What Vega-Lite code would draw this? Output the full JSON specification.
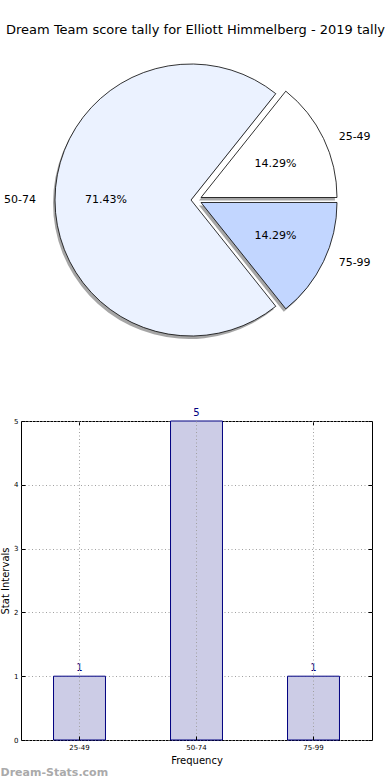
{
  "$schema": "https://vega.github.io/schema/vega-lite/v6.json",
  "padding": {"top": 24, "left": 0, "right": 0, "bottom": 0},
  "background": "white",
  "config": {"font": "DejaVu Sans", "view": {"stroke": null}},
  "title": {"text": "Dream Team score tally for Elliott Himmelberg - 2019 tally", "fontSize": 13, "fontWeight": "normal", "color": "black", "anchor": "middle", "offset": 13, "dx": 9},
  "datasets": {
    "tally": [
      {"range": "25-49", "count": 1, "pct": "14.29%"},
      {"range": "50-74", "count": 5, "pct": "71.43%"},
      {"range": "75-99", "count": 1, "pct": "14.29%"}
    ]
  },
  "spacing": 57,
  "vconcat": [
    {
      "width": 340,
      "height": 300,
      "data": {"name": "tally"},
      "encoding": {
        "theta": {"field": "count", "type": "quantitative", "stack": true, "scale": {"range": [1.5708, -4.7124]}},
        "order": {"field": "range"}
      },
      "layer": [
        {"mark": {"type": "arc", "radius": 136, "xOffset": -2, "yOffset": 3, "fill": "#4d4d4d", "fillOpacity": 0.5},
         "encoding": {"opacity": {"condition": {"test": "datum.range === '50-74'", "value": 1}, "value": 0}}},
        {"mark": {"type": "arc", "radius": 136, "xOffset": 8, "yOffset": 0.5, "fill": "#4d4d4d", "fillOpacity": 0.5},
         "encoding": {"opacity": {"condition": {"test": "datum.range === '25-49'", "value": 1}, "value": 0}}},
        {"mark": {"type": "arc", "radius": 136, "xOffset": 8, "yOffset": 5.5, "fill": "#4d4d4d", "fillOpacity": 0.5},
         "encoding": {"opacity": {"condition": {"test": "datum.range === '75-99'", "value": 1}, "value": 0}}},
        {"mark": {"type": "arc", "radius": 136, "fill": "#ebf2ff", "stroke": "black", "strokeWidth": 0.8},
         "encoding": {"opacity": {"condition": {"test": "datum.range === '50-74'", "value": 1}, "value": 0}}},
        {"mark": {"type": "arc", "radius": 136, "xOffset": 10, "yOffset": -2.5, "fill": "#ffffff", "stroke": "black", "strokeWidth": 0.8},
         "encoding": {"opacity": {"condition": {"test": "datum.range === '25-49'", "value": 1}, "value": 0}}},
        {"mark": {"type": "arc", "radius": 136, "xOffset": 10, "yOffset": 2.5, "fill": "#c2d6ff", "stroke": "black", "strokeWidth": 0.8},
         "encoding": {"opacity": {"condition": {"test": "datum.range === '75-99'", "value": 1}, "value": 0}}},
        {"mark": {"type": "text", "radius": 85, "fontSize": 11, "color": "black", "align": "center", "baseline": "middle"},
         "encoding": {"text": {"field": "pct"}, "opacity": {"condition": {"test": "datum.range === '50-74'", "value": 1}, "value": 0}}},
        {"mark": {"type": "text", "radius": 85, "xOffset": 8, "yOffset": 1, "fontSize": 11, "color": "black", "align": "center", "baseline": "middle"},
         "encoding": {"text": {"field": "pct"}, "opacity": {"condition": {"test": "datum.range === '25-49'", "value": 1}, "value": 0}}},
        {"mark": {"type": "text", "radius": 85, "xOffset": 8, "yOffset": -1, "fontSize": 11, "color": "black", "align": "center", "baseline": "middle"},
         "encoding": {"text": {"field": "pct"}, "opacity": {"condition": {"test": "datum.range === '75-99'", "value": 1}, "value": 0}}},
        {"mark": {"type": "text", "radius": 155, "fontSize": 11, "color": "black", "align": "right", "baseline": "middle"},
         "encoding": {"text": {"field": "range"}, "opacity": {"condition": {"test": "datum.range === '50-74'", "value": 1}, "value": 0}}},
        {"mark": {"type": "text", "radius": 155, "xOffset": 8, "yOffset": 4, "fontSize": 11, "color": "black", "align": "left", "baseline": "middle"},
         "encoding": {"text": {"field": "range"}, "opacity": {"condition": {"test": "datum.range === '25-49'", "value": 1}, "value": 0}}},
        {"mark": {"type": "text", "radius": 155, "xOffset": 8, "yOffset": -4, "fontSize": 11, "color": "black", "align": "left", "baseline": "middle"},
         "encoding": {"text": {"field": "range"}, "opacity": {"condition": {"test": "datum.range === '75-99'", "value": 1}, "value": 0}}}
      ]
    },
    {
      "width": 351,
      "height": 319,
      "data": {"name": "tally"},
      "view": {"stroke": "black", "strokeWidth": 1},
      "title": {"text": "Dream-Stats.com", "orient": "bottom", "anchor": "start", "frame": "bounds", "fontSize": 11, "fontWeight": "bold", "color": "#aaaaaa", "offset": 2},
      "encoding": {
        "x": {"field": "range", "type": "nominal", "scale": {"paddingInner": 0.556, "paddingOuter": 0.278},
              "axis": {"title": "Frequency", "titleFontSize": 10, "titleFontWeight": "normal", "titleColor": "black", "titlePadding": 5,
                       "labelFontSize": 7, "labelAngle": 0, "labelColor": "black", "labelPadding": 7,
                       "domain": false, "ticks": true, "tickSize": -4, "tickColor": "black",
                       "grid": true, "gridDash": [1, 2.5], "gridColor": "#a0a0a0", "zindex": 1}},
        "y": {"field": "count", "type": "quantitative", "scale": {"domain": [0, 5]},
              "axis": {"title": "Stat Intervals", "titleFontSize": 10, "titleFontWeight": "normal", "titleColor": "black", "titlePadding": 3,
                       "values": [0, 1, 2, 3, 4, 5], "labelFontSize": 7, "labelColor": "black", "labelPadding": 7,
                       "domain": false, "ticks": true, "tickSize": -4, "tickColor": "black",
                       "grid": true, "gridDash": [1, 2.5], "gridColor": "#a0a0a0"}}
      },
      "layer": [
        {"mark": {"type": "bar", "fill": "#ccccE6", "stroke": "#000080", "strokeWidth": 1}},
        {"mark": {"type": "text", "baseline": "bottom", "dy": -3, "color": "#000080", "fontSize": 10},
         "encoding": {
           "text": {"field": "count"},
           "x": {"field": "range", "type": "nominal", "axis": {"orient": "top", "title": null, "labels": false, "grid": false, "domain": false, "ticks": true, "tickSize": -4, "tickColor": "black"}},
           "y": {"field": "count", "type": "quantitative", "axis": {"orient": "right", "title": null, "labels": false, "grid": false, "domain": false, "ticks": true, "tickSize": -4, "tickColor": "black", "values": [0, 1, 2, 3, 4, 5]}}
         }}
      ],
      "resolve": {"axis": {"x": "independent", "y": "independent"}}
    }
  ]
}
